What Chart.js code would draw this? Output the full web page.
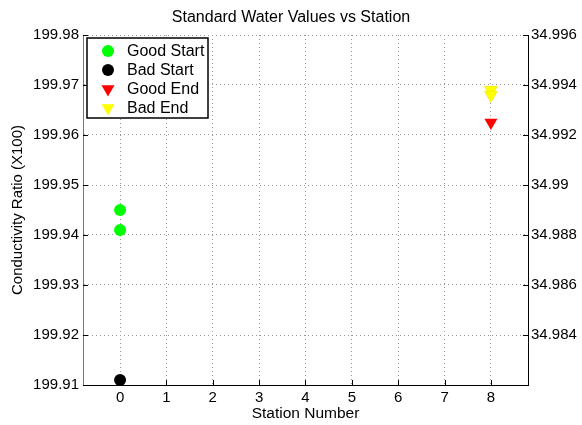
<!DOCTYPE html>
<html>
<head>
<meta charset="utf-8">
<script src="https://cdn.jsdelivr.net/npm/chart.js@4.4.1/dist/chart.umd.min.js"></script>
<style>
  html, body { margin: 0; padding: 0; background: #fff; }
  #wrap { width: 582px; height: 425px; }
</style>
</head>
<body>
<div id="wrap"><canvas id="chart" width="582" height="425"></canvas></div>
<script>
// ---- data ----
const xTicks = [0, 1, 2, 3, 4, 5, 6, 7, 8];
const leftTicks = [199.91, 199.92, 199.93, 199.94, 199.95, 199.96, 199.97, 199.98];
const rightTicks = [34.984, 34.986, 34.988, 34.99, 34.992, 34.994, 34.996];

const goodStartX = [0, 0];
const goodStartY = [199.945, 199.941];
const badStartX = [0];
const badStartY = [199.911];
const goodEndX = [8];
const goodEndY = [34.9925];
const badEndX = [8, 8];
const badEndY = [34.9938, 34.9936];

const FONT = 'Liberation Sans, Arial, Helvetica, sans-serif';

function pts(xs, ys) {
    return xs.map((x, i) => ({ x: x, y: ys[i] }));
}

function fmt(v) {
    return String(Number(v.toFixed(3)));
}

// ticks drawn inwards (MATLAB style)
const innerTicks = {
    id: 'innerTicks',
    afterDraw(chart) {
        const ctx = chart.ctx;
        const a = chart.chartArea;
        const len = 5;
        ctx.save();
        ctx.lineWidth = 1;
        ctx.strokeStyle = '#000';
        ctx.beginPath();
        chart.scales.x.ticks.forEach(t => {
            const px = Math.round(chart.scales.x.getPixelForValue(t.value)) + 0.5;
            ctx.moveTo(px, a.bottom);
            ctx.lineTo(px, a.bottom - len);
        });
        chart.scales.y.ticks.forEach(t => {
            const py = Math.round(chart.scales.y.getPixelForValue(t.value)) + 0.5;
            ctx.moveTo(a.left, py);
            ctx.lineTo(a.left + len, py);
        });
        chart.scales.y2.ticks.forEach(t => {
            const py = Math.round(chart.scales.y2.getPixelForValue(t.value)) + 0.5;
            ctx.moveTo(a.right, py);
            ctx.lineTo(a.right - len, py);
        });
        ctx.stroke();
        ctx.restore();
    }
};

// boxed legend inside the plot, top-left
const boxLegend = {
    id: 'boxLegend',
    afterDraw(chart) {
        const ctx = chart.ctx;
        const bx = 87, by = 38, bw = 121, bh = 80;
        ctx.save();
        ctx.fillStyle = '#fff';
        ctx.fillRect(bx, by, bw, bh);
        ctx.strokeStyle = '#000';
        ctx.lineWidth = 1.5;
        ctx.strokeRect(bx, by, bw, bh);
        ctx.font = '16px ' + FONT;
        ctx.textBaseline = 'middle';
        chart.data.datasets.forEach((ds, i) => {
            const cy = by + 13 + i * 19;
            ctx.fillStyle = ds.backgroundColor;
            ctx.strokeStyle = ds.backgroundColor;
            Chart.helpers.drawPoint(ctx, {
                pointStyle: ds.pointStyle,
                rotation: ds.pointRotation || 0,
                radius: ds.pointRadius,
                borderWidth: 0
            }, bx + 21, cy);
            ctx.fillStyle = '#000';
            ctx.fillText(ds.label, bx + 40, cy + 1);
        });
        ctx.restore();
    }
};

const gridCol = '#9a9a9a';

new Chart(document.getElementById('chart'), {
    type: 'scatter',
    data: {
        datasets: [
            { label: 'Good Start', data: pts(goodStartX, goodStartY), yAxisID: 'y',
              pointStyle: 'circle', pointRadius: 6, backgroundColor: '#00ff00', borderWidth: 0 },
            { label: 'Bad Start', data: pts(badStartX, badStartY), yAxisID: 'y',
              pointStyle: 'circle', pointRadius: 6, backgroundColor: '#000000', borderWidth: 0 },
            { label: 'Good End', data: pts(goodEndX, goodEndY), yAxisID: 'y2',
              pointStyle: 'triangle', pointRotation: 180, pointRadius: 7.5, backgroundColor: '#ff0000', borderWidth: 0 },
            { label: 'Bad End', data: pts(badEndX, badEndY), yAxisID: 'y2',
              pointStyle: 'triangle', pointRotation: 180, pointRadius: 7.5, backgroundColor: '#ffff00',
              borderColor: '#e6e600', borderWidth: 0.6 }
        ]
    },
    options: {
        responsive: false,
        animation: false,
        events: [],
        layout: { padding: 0 },
        plugins: {
            legend: { display: false },
            tooltip: { enabled: false },
            title: {
                display: true,
                text: 'Standard Water Values vs Station',
                color: '#000',
                font: { family: FONT, size: 16, weight: 'normal' },
                padding: { top: 7.8, bottom: 8 }
            }
        },
        scales: {
            x: {
                type: 'linear',
                min: -0.8,
                max: 8.8,
                afterBuildTicks: s => { s.ticks = xTicks.map(v => ({ value: v })); },
                afterFit: s => { s.height = 40; },
                ticks: { color: '#000', font: { family: FONT, size: 15 }, padding: 4, maxRotation: 0,
                         callback: v => String(v) },
                grid: { color: gridCol, drawTicks: false },
                border: { display: true, color: '#000', width: 1, dash: [1, 3] },
                title: { display: true, text: 'Station Number', color: '#000',
                         font: { family: FONT, size: 15.5 }, padding: { top: 0, bottom: 2 } }
            },
            y: {
                type: 'linear',
                position: 'left',
                min: 199.91,
                max: 199.98,
                afterBuildTicks: s => { s.ticks = leftTicks.map(v => ({ value: v })); },
                afterFit: s => { s.width = 83; },
                ticks: { color: '#000', font: { family: FONT, size: 15 }, padding: 4,
                         callback: v => v.toFixed(2) },
                grid: { color: gridCol, drawTicks: false },
                border: { display: true, color: '#777', width: 1, dash: [1, 3] },
                title: { display: true, text: 'Conductivity Ratio (X100)', color: '#000',
                         font: { family: FONT, size: 15 }, padding: { top: 9, bottom: 0 } }
            },
            y2: {
                type: 'linear',
                position: 'right',
                min: 34.982,
                max: 34.996,
                afterBuildTicks: s => { s.ticks = rightTicks.map(v => ({ value: v })); },
                afterFit: s => { s.width = 54; },
                ticks: { color: '#000', font: { family: FONT, size: 15 }, padding: 3,
                         callback: v => fmt(v) },
                grid: { drawOnChartArea: false, drawTicks: false },
                border: { display: true, color: '#000', width: 1 }
            }
        }
    },
    plugins: [innerTicks, boxLegend]
});
</script>
</body>
</html>
